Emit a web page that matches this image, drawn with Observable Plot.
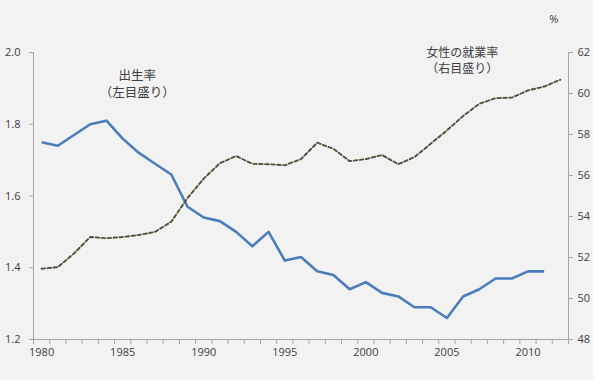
<!DOCTYPE html>
<html>
<head>
<meta charset="utf-8">
<script src="https://cdn.jsdelivr.net/npm/d3@7"></script>
<script src="https://cdn.jsdelivr.net/npm/@observablehq/plot@0.6"></script>
<style>
  body { margin: 0; background: #ffffff; }
  #chart { width: 593px; height: 380px; background: #f2f2f2; overflow: hidden; }
  #chart svg { display: block; }
</style>
</head>
<body>
<div id="chart"></div>
<script>
// ---- data ----
const years = [1980,1981,1982,1983,1984,1985,1986,1987,1988,1989,1990,1991,1992,1993,1994,1995,1996,1997,1998,1999,2000,2001,2002,2003,2004,2005,2006,2007,2008,2009,2010,2011,2012];
// 出生率 (left axis), 1980–2011
const birthRate = [1.75,1.74,1.77,1.80,1.81,1.76,1.72,1.69,1.66,1.57,1.54,1.53,1.50,1.46,1.50,1.42,1.43,1.39,1.38,1.34,1.36,1.33,1.32,1.29,1.29,1.26,1.32,1.34,1.37,1.37,1.39,1.39];
// 女性の就業率 (right axis, %), 1980–2012
const femaleRate = [51.45,51.53,52.2,53.0,52.94,53.0,53.1,53.25,53.75,54.9,55.85,56.6,56.95,56.57,56.55,56.5,56.8,57.6,57.3,56.7,56.8,57.0,56.55,56.9,57.55,58.2,58.9,59.5,59.77,59.8,60.15,60.34,60.67];
const leftTicks = [1.2,1.4,1.6,1.8,2.0];
const rightTicks = [48,50,52,54,56,58,60,62];
const xLabelYears = [1980,1985,1990,1995,2000,2005,2010];
const leftDomain = [1.2, 2.0];
const rightDomain = [48, 62];
const birthLabel = "出生率\n（左目盛り）";
const femaleLabel = "女性の就業率\n（右目盛り）";
const unitLabel = "%";

// map right-axis values onto the left scale
const toLeft = v => leftDomain[0] + (v - rightDomain[0]) / (rightDomain[1] - rightDomain[0]) * (leftDomain[1] - leftDomain[0]);
const fromLeft = v => rightDomain[0] + (v - leftDomain[0]) / (leftDomain[1] - leftDomain[0]) * (rightDomain[1] - rightDomain[0]);

const birthData = birthRate.map((v, i) => ({year: years[i], value: v}));
const femaleData = femaleRate.map((v, i) => ({year: years[i], value: toLeft(v)}));
const bounds = years.map(y => y - 0.5).concat([years[years.length - 1] + 0.5]);
const xMin = bounds[0], xMax = bounds[bounds.length - 1];

const axisColor = "#a6a6a6";
const textColor = "#404040";

const chart = Plot.plot({
  width: 593,
  height: 380,
  marginLeft: 33,
  marginRight: 25,
  marginTop: 52,
  marginBottom: 41,
  style: {
    background: "transparent",
    fontFamily: "'Open Sans','Noto Sans CJK JP',sans-serif",
    fontSize: "11px",
    color: textColor,
    overflow: "visible"
  },
  x: {type: "linear", domain: [xMin, xMax], label: null},
  y: {type: "linear", domain: leftDomain, label: null},
  marks: [
    // axis lines
    Plot.ruleY([leftDomain[0]], {stroke: axisColor, strokeWidth: 1}),
    Plot.ruleX([xMin], {stroke: axisColor, strokeWidth: 1}),
    Plot.ruleX([xMax], {stroke: axisColor, strokeWidth: 1}),
    // x minor ticks at category boundaries
    Plot.axisX(bounds, {tickSize: 5, tickFormat: () => "", stroke: axisColor, label: null}),
    // x labels at category centres
    Plot.axisX(xLabelYears, {tickSize: 0, tickPadding: 9, tickFormat: d => String(d), fill: textColor, label: null}),
    // left axis
    Plot.axisY(leftTicks, {anchor: "left", tickSize: 4, tickPadding: 9, tickFormat: d => d.toFixed(1), stroke: axisColor, fill: textColor, label: null}),
    // right axis
    Plot.axisY(rightTicks.map(toLeft), {anchor: "right", tickSize: 4, tickPadding: 5, tickFormat: d => String(Math.round(fromLeft(d))), stroke: axisColor, fill: textColor, label: null}),
    // series
    Plot.line(birthData, {x: "year", y: "value", stroke: "#4a7ebb", strokeWidth: 2.6, strokeLinejoin: "round", strokeLinecap: "butt"}),
    Plot.line(femaleData, {x: "year", y: "value", stroke: "#4f5236", strokeWidth: 1.9, strokeDasharray: "3.5,2.5"}),
    // annotations
    Plot.text([birthLabel], {x: 1985.9, y: 1.915, text: d => d, fontSize: 12.5, fill: textColor, lineHeight: 1.35, lineAnchor: "middle"}),
    Plot.text([femaleLabel], {x: 2005.95, y: 1.979, text: d => d, fontSize: 12, fill: textColor, lineHeight: 1.3, lineAnchor: "middle"}),
    Plot.text([unitLabel], {x: 2011.6, y: 2.092, text: d => d, fontSize: 11, fill: textColor})
  ]
});
document.getElementById("chart").appendChild(chart);
</script>
</body>
</html>
